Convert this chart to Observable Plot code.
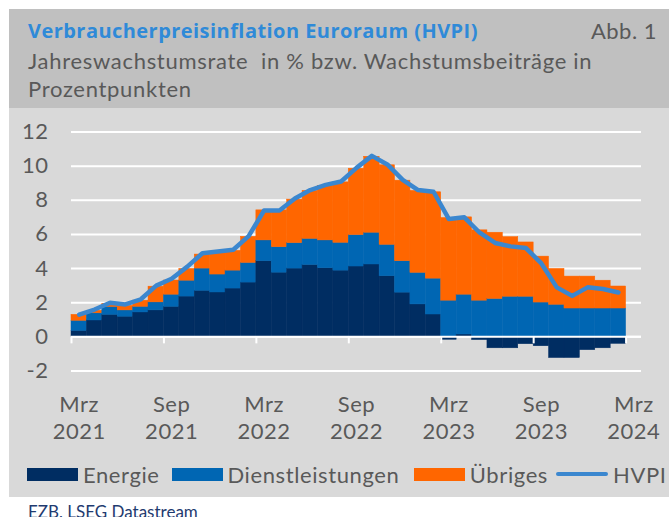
<!DOCTYPE html>
<html><head><meta charset="utf-8">
<script src="https://cdn.jsdelivr.net/npm/d3@7"></script>
<script src="https://cdn.jsdelivr.net/npm/@observablehq/plot@0.6"></script>
<style>
html,body{margin:0;padding:0;background:#fff}
body{width:669px;height:517px;overflow:hidden;position:relative;font-family:Lato,sans-serif}
#panel{position:absolute;left:9px;top:9px;width:660px;height:488px;background:#d9d9d9}
#header{position:absolute;left:0;top:0;width:660px;height:99px;background:#c0c0c0}
#title{position:absolute;left:19px;top:10px;font-family:"Open Sans",sans-serif;font-weight:700;font-size:20px;line-height:1.2;color:#2f8ad8;white-space:nowrap;letter-spacing:0.45px}
#abb{position:absolute;right:12px;top:9px;font-size:22px;letter-spacing:0.5px;line-height:1.2;color:#595959;white-space:nowrap}
#subtitle{position:absolute;left:19px;top:38px;font-size:22px;letter-spacing:0.7px;line-height:28px;color:#595959;white-space:nowrap}
#chart{position:absolute;left:0;top:99px}
.item{position:absolute;top:452px;height:26px;display:flex;align-items:center;font-size:22px;letter-spacing:0.6px;color:#595959;white-space:nowrap}
.sw{width:51px;height:13px;margin-right:5px}
.ln{width:52px;height:4px;border-radius:2px;margin-right:5px}
#caption{position:absolute;left:28px;top:502px;font-size:17px;line-height:1.2;color:#1f3b70;white-space:nowrap}
</style></head>
<body>
<div id="panel">
  <div id="header">
    <div id="title">Verbraucherpreisinflation Euroraum (HVPI)</div>
    <div id="abb">Abb. 1</div>
    <div id="subtitle">Jahreswachstumsrate&nbsp; in % bzw. Wachstumsbeiträge in<br>Prozentpunkten</div>
  </div>
  <div id="chart"></div>
  <div id="legend"></div>
</div>
<div id="caption">EZB, LSEG Datastream</div>
<script>
// Monthly data, Mrz 2021 ... Feb 2024 (contributions in percentage points, HVPI in %)
const months = ["2021-03","2021-04","2021-05","2021-06","2021-07","2021-08","2021-09","2021-10","2021-11","2021-12",
  "2022-01","2022-02","2022-03","2022-04","2022-05","2022-06","2022-07","2022-08","2022-09","2022-10","2022-11","2022-12",
  "2023-01","2023-02","2023-03","2023-04","2023-05","2023-06","2023-07","2023-08","2023-09","2023-10","2023-11","2023-12",
  "2024-01","2024-02"];
const energie = [0.35,0.96,1.29,1.18,1.43,1.55,1.76,2.36,2.70,2.60,2.83,3.18,4.43,3.76,4.00,4.21,4.02,3.88,4.12,4.24,3.55,2.59,
  1.90,1.31,-0.17,0.14,-0.19,-0.67,-0.67,-0.43,-0.55,-1.24,-1.24,-0.78,-0.67,-0.41];
const dienstleistungen = [0.59,0.42,0.46,0.37,0.33,0.47,0.71,0.93,1.30,1.05,1.05,1.15,1.22,1.49,1.49,1.53,1.63,1.63,1.84,1.86,1.84,1.84,
  1.85,2.10,2.12,2.33,2.12,2.22,2.35,2.35,2.01,1.88,1.66,1.66,1.66,1.66];
const uebriges = [0.35,0.15,0.19,0.27,0.36,0.92,0.83,0.69,0.82,1.27,1.16,1.53,1.76,2.16,2.55,2.81,3.20,3.54,3.89,4.45,4.66,4.72,
  4.80,5.06,4.84,4.53,4.12,3.88,3.49,3.18,2.69,2.10,1.87,1.87,1.63,1.29];
const hvpi = [1.3,1.6,2.0,1.9,2.2,3.0,3.4,4.1,4.9,5.0,5.1,5.9,7.4,7.4,8.1,8.6,8.9,9.1,9.9,10.6,10.1,9.2,
  8.6,8.5,6.9,7.0,6.1,5.5,5.3,5.2,4.3,2.9,2.4,2.9,2.8,2.6];

const seriesNames = ["Energie","Dienstleistungen","Übriges"];
const seriesColors = ["#002d62","#0066b3","#ff6600"];
const lineName = "HVPI";
const lineColor = "#3b87cf";

const xTickLabels = ["Mrz\n2021","Sep\n2021","Mrz\n2022","Sep\n2022","Mrz\n2023","Sep\n2023","Mrz\n2024"];
const xTickMonth = [0,6,12,18,24,30,36];   // month index of each label (Mrz 2024 = 36, no data yet)
const nCategories = 37;
const yTicks = [-2,0,2,4,6,8,10,12];

// build tables
const table = [];
const seriesValues = [energie, dienstleistungen, uebriges];
months.forEach((m, i) => {
  seriesNames.forEach((s, k) => table.push({i, month: m, series: s, value: seriesValues[k][i]}));
});
const lineData = hvpi.map((v, i) => ({i, v}));
const xLabels = xTickLabels.map((label, k) => ({i: xTickMonth[k], label}));

const chart = Plot.plot({
  width: 660, height: 340,
  marginLeft: 62, marginRight: 28, marginTop: 23.5, marginBottom: 77.5,
  style: {background: "transparent", fontFamily: "Lato, sans-serif", fontSize: "22px", letterSpacing: "0.5px", color: "#595959"},
  x: {domain: [0, nCategories], axis: null},
  y: {domain: [yTicks[0], yTicks[yTicks.length - 1]], ticks: yTicks, tickSize: 0, tickPadding: 23, label: null,
      tickFormat: d => String(d)},
  color: {domain: seriesNames, range: seriesColors},
  marks: [
    Plot.ruleY(yTicks, {stroke: "#ffffff", strokeWidth: 2}),
    Plot.rectY(table, {x1: "i", x2: d => d.i + 1, y: "value", fill: "series", stroke: "series", strokeWidth: 0.5}),
    Plot.ruleY([0], {stroke: "#ffffff", strokeWidth: 2}),
    Plot.ruleX(xTickMonth, {x: d => d, y1: 0, y2: 0, insetBottom: -7, stroke: "#ffffff", strokeWidth: 2}),
    Plot.line(lineData, {x: d => d.i + 0.5, y: "v", stroke: lineColor, strokeWidth: 4.5, strokeLinejoin: "round", strokeLinecap: "round"}),
    Plot.text(xLabels, {x: d => d.i + 0.5, text: "label", frameAnchor: "bottom", lineAnchor: "top", dy: 21,
      lineHeight: 1.25, fill: "#595959", fontSize: 22})
  ]
});
document.getElementById("chart").appendChild(chart);

// legend
const legend = document.getElementById("legend");
const legendLeft = [18, 162.5, 404.8, 547];
seriesNames.forEach((s, k) => {
  const d = document.createElement("div");
  d.className = "item"; d.style.left = legendLeft[k] + "px";
  d.innerHTML = `<span class="sw" style="background:${seriesColors[k]}"></span><span>${s}</span>`;
  legend.appendChild(d);
});
const dl = document.createElement("div");
dl.className = "item"; dl.style.left = legendLeft[3] + "px";
dl.innerHTML = `<span class="ln" style="background:${lineColor}"></span><span>${lineName}</span>`;
legend.appendChild(dl);
</script>
</body></html>
